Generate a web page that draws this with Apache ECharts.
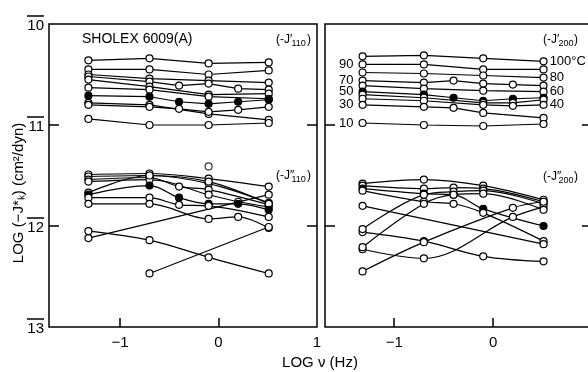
<!DOCTYPE html>
<html><head><meta charset="utf-8">
<script src="https://cdn.jsdelivr.net/npm/echarts@6/dist/echarts.min.js"></script>
<style>html,body{margin:0;padding:0;background:#fff}#c{width:588px;height:372px}</style>
</head><body><div id="c"></div>
<script>
// log frequency (Hz) of the measurement points
const logFreq = [-1.32, -0.70, -0.40, -0.10, 0.20, 0.51];
const yTickValues = [-10, -11, -12, -13];
const xLabelsLeft = [-1, 0, 1];
const xLabelsRight = [-1, 0];

// -J'110 (upper left), one row per temperature, values are LOG(-J*)
const jp110 = [
  [-10.36, -10.34, null, -10.39, null, -10.38],
  [-10.45, -10.45, null, -10.50, null, -10.46],
  [-10.50, -10.54, null, -10.56, null, -10.58],
  [-10.52, -10.57, -10.61, -10.59, -10.64, -10.65],
  [-10.55, -10.62, null, -10.70, null, -10.69],
  [-10.63, -10.65, null, -10.72, null, -10.74],
  [-10.71, -10.72, -10.77, -10.79, -10.77, -10.75],
  [-10.78, -10.80, null, -10.89, null, -10.95],
  [-10.80, -10.82, -10.84, -10.87, -10.85, -10.82],
  [-10.94, -11.00, null, -11.00, null, -10.98]
];
// -J''110 (lower left)
const jpp110 = [
  [-11.49, -11.48, null, -11.53, null, -11.61],
  [-11.51, -11.50, null, -11.58, null, -11.77],
  [-11.54, -11.52, -11.61, -11.64, null, -11.79],
  [-11.56, -11.54, null, -11.69, -11.76, -11.81],
  [-11.67, -11.50, null, -11.56, null, -11.78],
  [-11.69, -11.60, -11.72, -11.78, -11.78, -11.84],
  [-11.72, -11.72, -11.79, -11.80, null, -11.91],
  [-11.78, -11.78, null, -11.93, -11.91, -12.02],
  [-12.12, null, null, null, null, -11.69],
  [-12.05, -12.14, null, -12.31, null, -12.47],
  [null, -12.47, null, null, null, -12.01]
];
const jpp110Lone = [[-0.10, -11.41]];
// -J'200 (upper right)
const jp200 = [
  [-10.32, -10.31, null, -10.34, null, -10.37],
  [-10.40, -10.40, null, -10.45, null, -10.45],
  [-10.48, -10.49, null, -10.51, null, -10.53],
  [-10.56, -10.58, -10.56, -10.59, -10.60, -10.61],
  [-10.61, -10.64, null, -10.66, null, -10.67],
  [-10.67, -10.70, -10.73, -10.76, -10.74, -10.73],
  [-10.70, -10.73, null, -10.78, -10.78, -10.75],
  [-10.74, -10.76, null, -10.80, -10.81, -10.80],
  [-10.80, -10.82, -10.83, -10.88, null, -10.93],
  [-10.98, -11.00, null, -11.01, null, -10.99]
];
const tempLabels200 = ['100°C', '90', '80', '70', '60', '50', '', '40', '30', '10'];
// -J''200 (lower right)
const jpp200 = [
  [-11.58, -11.54, null, -11.60, null, -11.74],
  [-11.60, -11.63, -11.62, -11.63, null, -11.76],
  [-11.63, -11.68, -11.69, -11.83, null, -12.00],
  [-11.65, -11.76, -11.78, -11.87, null, -12.15],
  [-11.80, null, null, null, null, -12.18],
  [-12.06, -12.15, null, -12.30, null, -12.35],
  [-12.03, -11.69, -11.66, -11.65, null, -11.78],
  [-12.23, -12.32, null, null, -11.91, -11.81],
  [-12.45, -12.16, null, null, -11.82, -11.76],
  [-12.21, -11.78, -11.69, -11.68, null, -11.84]
];

// ---- styling / layout ----
const FONT = '"Liberation Sans", Arial, sans-serif';
const labelSide200 = ['right', 'left', 'right', 'left', 'right', 'left', '', 'right', 'left', 'left'];
const filledRows = { jp110: [6], jpp110: [5], jp200: [5], jpp200: [2] };

function buildPanel(rows, xi, yi, smooth, filled, labels, sides) {
  return rows.map((row, i) => {
    const pts = [];
    row.forEach((v, j) => { if (v !== null) pts.push({ value: [logFreq[j], v] }); });
    if (labels && labels[i]) {
      const side = sides[i];
      const item = side === 'left' ? pts[0] : pts[pts.length - 1];
      item.label = { show: true, position: side, distance: side === 'left' ? 5 : 2,
        formatter: labels[i], fontSize: 13, color: '#000', fontFamily: FONT };
    }
    const isFilled = filled.includes(i);
    return {
      type: 'line', xAxisIndex: xi, yAxisIndex: yi, data: pts, smooth: smooth,
      symbol: 'circle', symbolSize: 7, showAllSymbol: true,
      lineStyle: { color: '#000', width: 1.2 },
      itemStyle: { color: isFilled ? '#000' : '#fff', borderColor: '#000', borderWidth: 1.2 },
      emphasis: { disabled: true }, z: 3
    };
  });
}

const series = [].concat(
  buildPanel(jp110, 0, 0, false, filledRows.jp110),
  buildPanel(jpp110, 0, 0, 0.35, filledRows.jpp110),
  buildPanel(jp200, 1, 2, false, filledRows.jp200, tempLabels200, labelSide200),
  buildPanel(jpp200, 1, 2, 0.35, filledRows.jpp200),
  [{ type: 'scatter', xAxisIndex: 0, yAxisIndex: 0, data: jpp110Lone, symbol: 'circle', symbolSize: 7,
     itemStyle: { color: '#fff', borderColor: '#000', borderWidth: 1.2 }, z: 3 }]
);

const fmtX = v => v < 0 ? '−' + Math.abs(v) : String(v);
function xAxisFor(gi, labels) {
  return {
    type: 'value', gridIndex: gi, min: -1.72 + (gi ? 0.02 : 0), max: 1.0,
    axisLine: { show: false, onZero: false }, splitLine: { show: false },
    axisTick: { show: true, inside: true, length: 9, customValues: [-1, 0], lineStyle: { color: '#000', width: 1.5 } },
    axisLabel: { customValues: labels, formatter: fmtX, fontSize: 15, margin: 8, color: '#000', fontFamily: FONT }
  };
}
function yAxisFor(gi, pos, showLabel) {
  return {
    type: 'value', gridIndex: gi, position: pos, min: -13, max: -10, interval: 1,
    axisLine: { show: false, onZero: false }, splitLine: { show: false },
    axisTick: { show: true, inside: true, length: 10, customValues: [-11, -12], lineStyle: { color: '#000', width: 1.5 } },
    axisLabel: { show: showLabel, customValues: yTickValues, margin: 5, color: '#000',
      formatter: v => '{b| }\n{n|' + (-v) + '}',
      rich: {
        b: { width: 17, height: 1.5, backgroundColor: '#000', lineHeight: 3, fontSize: 1 },
        n: { fontSize: 15, lineHeight: 16, fontFamily: FONT, color: '#000' }
      } }
  };
}

function subText(x, y, main, sub) {
  return {
    type: 'group', x: x, y: y, children: [
      { type: 'text', x: 0, y: 0, style: { text: main, fontSize: 12, fontFamily: FONT, fill: '#000', textVerticalAlign: 'middle' } },
      { type: 'text', x: 15.5, y: 4, style: { text: sub, fontSize: 9, fontFamily: FONT, fill: '#000', textVerticalAlign: 'middle' } },
      { type: 'text', x: 31, y: 0, style: { text: ')', fontSize: 12, fontFamily: FONT, fill: '#000', textVerticalAlign: 'middle' } }
    ]
  };
}

const option = {
  animation: false,
  backgroundColor: '#fff',
  grid: [
    { left: 49, top: 24, width: 268, height: 303, show: true, borderColor: '#000', borderWidth: 1.5, outerBoundsMode: 'none', containLabel: false },
    { left: 325, top: 24, width: 267, height: 303, show: true, borderColor: '#000', borderWidth: 1.5, outerBoundsMode: 'none', containLabel: false }
  ],
  xAxis: [xAxisFor(0, xLabelsLeft), xAxisFor(1, xLabelsRight)],
  yAxis: [yAxisFor(0, 'left', true), yAxisFor(0, 'right', false), yAxisFor(1, 'left', false), yAxisFor(1, 'right', false)],
  series: series,
  graphic: [
    { type: 'text', x: 82, y: 39, style: { text: 'SHOLEX 6009(A)', fontSize: 14, fontFamily: FONT, fill: '#000', textVerticalAlign: 'middle' } },
    subText(276, 40, '(-J\u2032', '110'),
    subText(276, 176, '(-J\u2033', '110'),
    subText(543, 40, '(-J\u2032', '200'),
    subText(543, 177, '(-J\u2033', '200'),
    { type: 'text', x: 320, y: 363, style: { text: 'LOG ν (Hz)', fontSize: 15, fontFamily: FONT, fill: '#000', textAlign: 'center', textVerticalAlign: 'middle' } },
    { type: 'text', x: 19, y: 193, rotation: Math.PI / 2, style: { text: 'LOG (−J*ₖ) (cm²/dyn)', fontSize: 15, fontFamily: FONT, fill: '#000', textAlign: 'center', textVerticalAlign: 'middle' } }
  ]
};

const chart = echarts.init(document.getElementById('c'));
chart.setOption(option);
</script>
</body></html>
